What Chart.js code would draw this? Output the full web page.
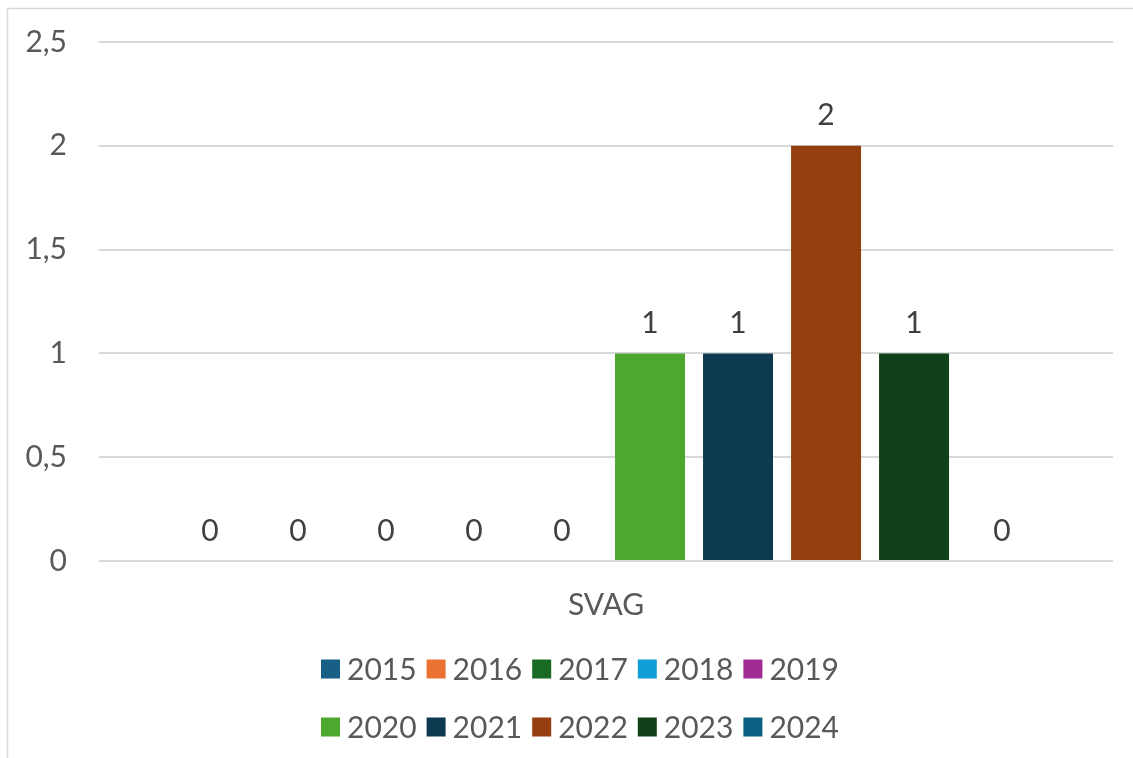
<!DOCTYPE html>
<html><head><meta charset="utf-8">
<script src="https://cdn.jsdelivr.net/npm/chart.js@4.4.1/dist/chart.umd.min.js"></script>
<style>html,body{margin:0;padding:0;background:#fff;overflow:hidden}</style>
</head><body>
<canvas id="c" width="1133" height="758"></canvas>
<script>
const categories = ['SVAG'];
const years = ['2015','2016','2017','2018','2019','2020','2021','2022','2023','2024'];
const counts = [0, 0, 0, 0, 0, 1, 1, 2, 1, 0];
const colors = ['#175F84','#E97132','#196B24','#0F9ED5','#A02B93','#4EA72E','#0E3A51','#953F11','#114118','#0B5F81'];
const yMin = 0, yMax = 2.5, yStep = 0.5;

const FONT = 'Lato, "Open Sans", sans-serif';

const framePlugin = {
  id: 'frame',
  beforeDraw(chart) {
    const ctx = chart.ctx;
    ctx.save();
    ctx.strokeStyle = '#d9d9d9';
    ctx.lineWidth = 1.5;
    ctx.beginPath();
    ctx.moveTo(7.5, chart.height);
    ctx.lineTo(7.5, 8.5);
    ctx.lineTo(chart.width, 8.5);
    ctx.stroke();
    ctx.restore();
  }
};

const labelPlugin = {
  id: 'valueLabels',
  afterDatasetsDraw(chart) {
    const ctx = chart.ctx;
    ctx.save();
    ctx.font = '30px ' + FONT;
    ctx.fillStyle = '#404040';
    ctx.textAlign = 'center';
    ctx.textBaseline = 'middle';
    chart.data.datasets.forEach((ds, i) => {
      const meta = chart.getDatasetMeta(i);
      meta.data.forEach((bar, j) => {
        ctx.fillText(String(ds.data[j]).replace('.', ','), bar.x, bar.y - 30);
      });
    });
    ctx.restore();
  }
};

const legendPlugin = {
  id: 'twoRowLegend',
  afterDraw(chart) {
    const ctx = chart.ctx;
    ctx.save();
    ctx.font = '30px ' + FONT;
    ctx.textBaseline = 'middle';
    ctx.textAlign = 'left';
    const ds = chart.data.datasets;
    const perRow = 5, box = 19, gapIn = 7, gapOut = 10;
    const rowY = [669, 727];
    const centerX = 580;
    for (let r = 0; r < 2; r++) {
      const items = ds.slice(r * perRow, r * perRow + perRow);
      const widths = items.map(d => box + gapIn + ctx.measureText(d.label).width);
      const total = widths.reduce((a, b) => a + b, 0) + gapOut * (items.length - 1);
      let x = centerX - total / 2;
      items.forEach((d, k) => {
        ctx.fillStyle = d.backgroundColor;
        ctx.fillRect(x, rowY[r] - box / 2, box, box);
        ctx.fillStyle = '#595959';
        ctx.fillText(d.label, x + box + gapIn, rowY[r] + 1);
        x += widths[k] + gapOut;
      });
    }
    ctx.restore();
  }
};

new Chart(document.getElementById('c'), {
  type: 'bar',
  data: {
    labels: categories,
    datasets: years.map((y, i) => ({
      label: y,
      data: [counts[i]],
      backgroundColor: colors[i],
      borderWidth: 0
    }))
  },
  options: {
    responsive: false,
    animation: false,
    devicePixelRatio: 1,
    categoryPercentage: 0.868,
    barPercentage: 0.795,
    layout: { padding: { left: 0, right: 20, top: 42, bottom: 127 } },
    plugins: {
      legend: { display: false },
      tooltip: { enabled: false }
    },
    scales: {
      x: {
        grid: { display: false, drawTicks: false },
        border: { display: false },
        ticks: { color: '#595959', font: { family: FONT, size: 30 }, padding: 26 },
        afterFit(s) { s.height = 70; }
      },
      y: {
        min: yMin, max: yMax,
        grid: { color: '#d9d9d9', lineWidth: 2, drawTicks: false },
        border: { display: false },
        ticks: {
          stepSize: yStep,
          color: '#595959',
          font: { family: FONT, size: 30 },
          padding: 32,
          callback: v => String(v).replace('.', ',')
        },
        afterFit(s) { s.width = 99; s.paddingTop = 0; s.paddingBottom = 0; }
      }
    }
  },
  plugins: [framePlugin, labelPlugin, legendPlugin]
});
</script>
</body></html>
